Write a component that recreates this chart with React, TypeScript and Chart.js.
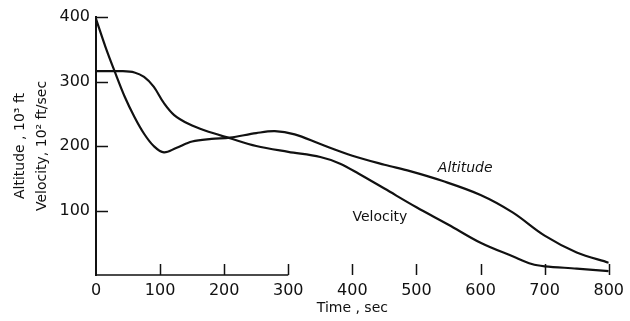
import { useEffect, useRef } from 'react';
import { Chart, registerables } from 'chart.js';

Chart.register(...registerables);

// Time (sec) samples and values
const altitudeTimes = [0, 15, 29, 45, 60, 75, 90, 106, 125, 150, 180, 209, 250, 279, 310, 350, 400, 450, 490, 540, 600, 650, 700, 750, 800];
const altitudeValues = [397, 353, 316, 276, 245, 219, 200, 190, 197, 207, 211, 213, 220, 223, 218, 203, 185, 171, 161, 146, 124, 97, 61, 35, 19];

const velocityTimes = [0, 40, 60, 75, 90, 105, 122, 145, 170, 209, 250, 300, 350, 380, 410, 450, 500, 550, 600, 650, 680, 700, 750, 800];
const velocityValues = [316, 316, 314, 307, 292, 268, 248, 234, 224, 212, 200, 191, 183, 173, 157, 134, 105, 78, 50, 29, 17, 13.5, 10, 6];

const xTickValues = [0, 100, 200, 300, 400, 500, 600, 700, 800];
const yTickValues = [100, 200, 300, 400];

const xTitle = 'Time , sec';
const yTitle = ['Altitude , 10\u00b3 ft', 'Velocity, 10\u00b2 ft/sec'];

const curveLabelTexts = ['Altitude', 'Velocity'];
const curveLabelTimes = [576, 443];
const curveLabelValues = [166, 90];

const INK = '#111';
const FONT = 'DejaVu Sans';

export default function App() {
  const ref = useRef<HTMLCanvasElement>(null);

  useEffect(() => {
    if (!ref.current) return;

    const decor = {
      id: 'decor',
      afterDraw(chart: any) {
        const { ctx } = chart;
        const x = chart.scales.x;
        const y = chart.scales.y;
        const y0 = y.getPixelForValue(0);
        const x0 = x.getPixelForValue(0);
        ctx.save();
        ctx.strokeStyle = INK;
        ctx.lineWidth = 1.5;
        ctx.beginPath();
        // partial baseline as in the reference
        ctx.moveTo(x0, y0);
        ctx.lineTo(x.getPixelForValue(300), y0);
        // inward ticks on x
        xTickValues.slice(1).forEach((t) => {
          const px = Math.round(x.getPixelForValue(t)) + 0.5;
          ctx.moveTo(px, y0);
          ctx.lineTo(px, y0 - 11);
        });
        // inward ticks on y
        yTickValues.forEach((v) => {
          const py = Math.round(y.getPixelForValue(v)) + 0.5;
          ctx.moveTo(x0, py);
          ctx.lineTo(x0 + 12, py);
        });
        ctx.stroke();

        ctx.fillStyle = INK;
        ctx.textAlign = 'center';
        ctx.textBaseline = 'middle';
        curveLabelTexts.forEach((txt, i) => {
          ctx.font = (i === 0 ? 'italic ' : '') + '14px "' + FONT + '"';
          ctx.fillText(txt, x.getPixelForValue(curveLabelTimes[i]), y.getPixelForValue(curveLabelValues[i]));
        });
        ctx.restore();
      },
    };

    const chart = new Chart(ref.current, {
      type: 'line',
      data: {
        datasets: [
          {
            label: 'Altitude',
            data: altitudeTimes.map((t, i) => ({ x: t, y: altitudeValues[i] })),
            borderColor: INK,
            borderWidth: 2.2,
            pointRadius: 0,
            tension: 0.35,
            fill: false,
          },
          {
            label: 'Velocity',
            data: velocityTimes.map((t, i) => ({ x: t, y: velocityValues[i] })),
            borderColor: INK,
            borderWidth: 2.2,
            pointRadius: 0,
            tension: 0.35,
            fill: false,
          },
        ],
      },
      options: {
        responsive: false,
        animation: false,
        devicePixelRatio: 1,
        layout: { padding: { left: 0, top: 17, right: 16, bottom: 0 } },
        plugins: { legend: { display: false }, tooltip: { enabled: false } },
        scales: {
          x: {
            type: 'linear',
            min: 0,
            max: 800,
            afterFit: (s: any) => { s.height = 46; },
            afterBuildTicks: (s: any) => { s.ticks = xTickValues.map((v) => ({ value: v })); },
            grid: { display: false, drawTicks: false },
            border: { display: false },
            ticks: {
              padding: 6,
              autoSkip: false,
              maxRotation: 0,
              color: INK,
              font: { family: FONT, size: 16 },
            },
            title: {
              display: true,
              text: xTitle,
              color: INK,
              font: { family: FONT, size: 14 },
              padding: { top: 0, bottom: 4 },
            },
          },
          y: {
            type: 'linear',
            min: 0,
            max: 400,
            afterFit: (s: any) => { s.width = 96; },
            afterBuildTicks: (s: any) => { s.ticks = [0, ...yTickValues].map((v) => ({ value: v })); },
            grid: { display: false, drawTicks: false },
            border: { display: true, color: INK, width: 2 },
            ticks: {
              padding: 6,
              color: INK,
              font: { family: FONT, size: 16 },
              callback: (v: any) => (v === 0 ? '' : String(v)),
            },
            title: {
              display: true,
              text: yTitle,
              color: INK,
              font: { family: FONT, size: 14, lineHeight: 22 / 14 },
              padding: { top: 9, bottom: 0 },
            },
          },
        },
      },
      plugins: [decor],
    });

    return () => chart.destroy();
  }, []);

  return (
    <div style={{ position: 'fixed', left: 0, top: 0, width: 630, height: 321, background: '#fff' }}>
      <canvas ref={ref} width={630} height={321} style={{ display: 'block' }} />
    </div>
  );
}
